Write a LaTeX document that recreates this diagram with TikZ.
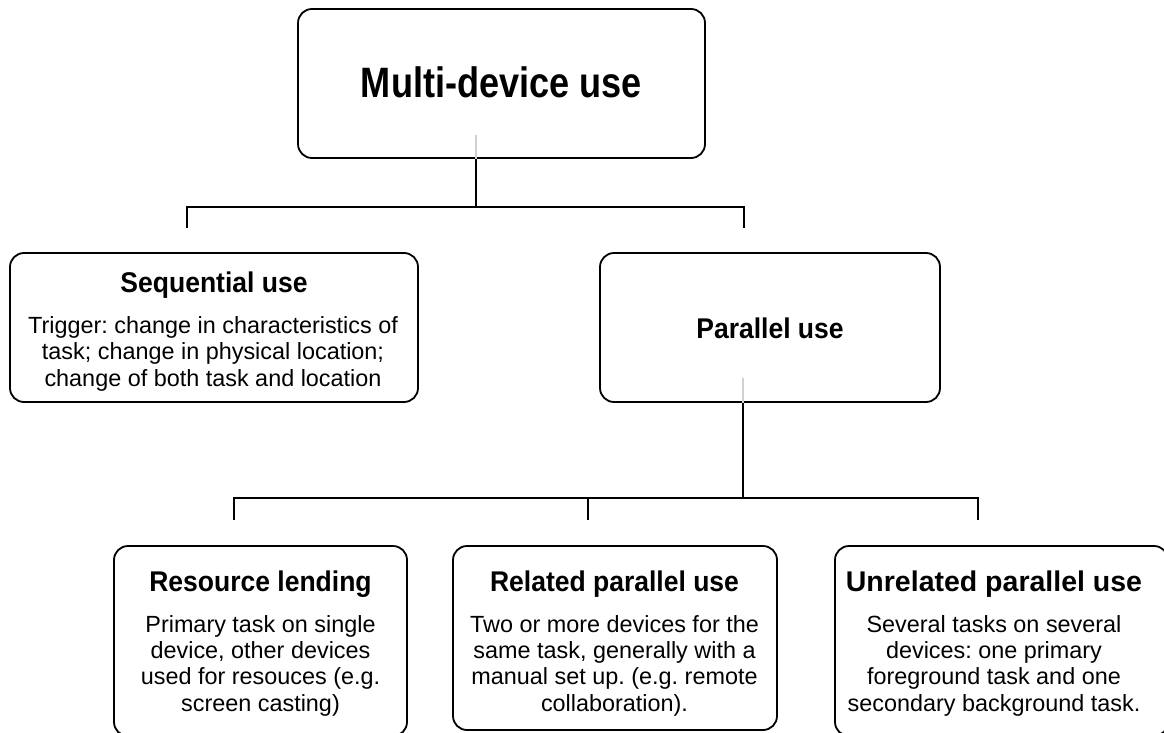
\documentclass[tikz,border=0pt]{standalone}
\usepackage{fontspec}
\setmainfont{Liberation Sans}
\newfontfamily\ttlfont[FakeStretch=0.93]{Liberation Sans}
\newfontfamily\ttlwidefont[FakeStretch=1.0]{Liberation Sans}
\newfontfamily\maintfont[FakeStretch=0.85]{Liberation Sans}
\frenchspacing
\begin{document}
\begin{tikzpicture}[x=1pt,y=-1pt,
  box/.style={draw=black, line width=1.8pt, rounded corners=14pt, inner sep=0pt},
  conn/.style={draw=black, line width=1.8pt},
  faint/.style={draw=black!18, line width=1.5pt},
  ttl/.style={font=\ttlfont\bfseries\fontsize{28.5}{32}\selectfont, anchor=base, inner sep=0pt},
  ttlwide/.style={font=\ttlwidefont\bfseries\fontsize{28.5}{32}\selectfont, anchor=base, inner sep=0pt},
  maint/.style={font=\maintfont\bfseries\fontsize{42.5}{48}\selectfont, anchor=base, inner sep=0pt},
  body/.style={font=\frenchspacing\fontsize{23.4}{26.4}\selectfont, anchor=base, inner sep=0pt}]
\useasboundingbox (0,0) rectangle (1164,733);
\fill[white] (0,0) rectangle (1164,733);

% boxes
\node[box, minimum width=407pt, minimum height=149pt] (top) at (501.5,83.5) {};
\node[box, minimum width=408pt, minimum height=149pt] (seq) at (214,327.5) {};
\node[box, minimum width=340pt, minimum height=149pt] (par) at (770,327.5) {};
\node[box, minimum width=293pt, minimum height=190pt] (res) at (260.5,641) {};
\node[box, minimum width=324pt, minimum height=184pt] (rel) at (615,638) {};
\node[box, minimum width=333pt, minimum height=190pt] (unr) at (1001.5,641) {};

% texts
\node[maint] (topt) at (501.5,97.5) {Multi-device use};
\node[ttl] (seqt) at (214,292) {Sequential use};
\node[body] (seqb) at (213,333.5) {\begin{tabular}[t]{@{}c@{}}Trigger: change in characteristics of\\task; change in physical location;\\change of both task and location\end{tabular}};
\node[ttl] (part) at (770,338) {Parallel use};
\node[ttl] (rest) at (260.5,591) {Resource lending};
\node[body] (resb) at (260.5,632) {\begin{tabular}[t]{@{}c@{}}Primary task on single\\device, other devices\\used for resouces (e.g.\\screen casting)\end{tabular}};
\node[ttl] (relt) at (614.5,591) {Related parallel use};
\node[body] (relb) at (614.5,632) {\begin{tabular}[t]{@{}c@{}}Two or more devices for the\\same task, generally with a\\manual set up. (e.g. remote\\collaboration).\end{tabular}};
\node[ttlwide] (unrt) at (994,591) {Unrelated parallel use};
\node[body] (unrb) at (994,632) {\begin{tabular}[t]{@{}c@{}}Several tasks on several\\devices: one primary\\foreground task and one\\secondary background task.\end{tabular}};

% junctions
\coordinate (j1) at (476,207);
\coordinate (d1) at (187,228);
\coordinate (d2) at (744,228);
\coordinate (j2) at (743,498);
\coordinate (d3) at (234,520);
\coordinate (d4) at (588,520);
\coordinate (d5) at (978,520);
\coordinate (f1) at (476,135);
\coordinate (f2) at (743,378);

% faint stubs inside boxes
\draw[faint] (f1) -- (top.south -| f1);
\draw[faint] (f2) -- (par.south -| f2);

% connectors
\draw[conn] (top.south -| j1) -- (j1);
\draw[conn] (d1) |- (j1) -| (d2);
\draw[conn] (par.south -| j2) -- (j2);
\draw[conn] (d3) |- (j2) -| (d5);
\draw[conn] (d4) -- (d4 |- j2);
\end{tikzpicture}
\end{document}
